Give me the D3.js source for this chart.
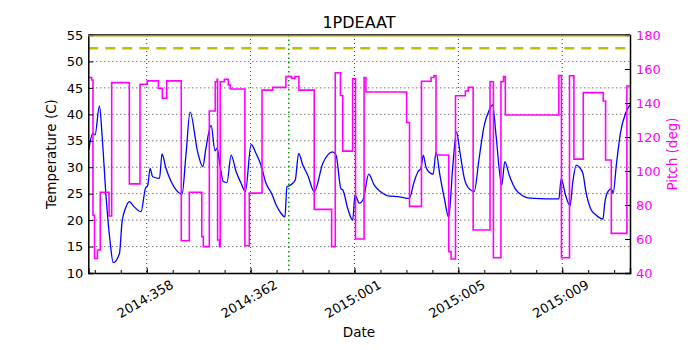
<!DOCTYPE html>
<html><head><meta charset="utf-8">
<script src="https://cdn.jsdelivr.net/npm/d3@7"></script>
<style>body{margin:0;background:#fff} svg{display:block} text{font-family:"DejaVu Sans",sans-serif}</style>
</head><body><svg id="c" width="700" height="350"></svg>
<script>
// Day-of-year values continue past 365 (366 = 2015:001)
const tempDays = [355.77,355.92,356.01,356.18,356.28,356.43,356.59,356.71,356.95,357.05,357.18,357.33,357.52,357.78,357.95,358.04,358.13,358.23,358.49,358.59,358.74,358.94,359.13,359.36,359.51,359.67,359.96,360.16,360.28,360.48,360.63,360.71,360.82,360.95,361.09,361.25,361.44,361.63,361.80,362.02,362.21,362.40,362.59,362.82,362.98,363.17,363.32,363.40,363.53,363.72,363.85,364.01,364.20,364.45,364.78,365.16,365.29,365.48,365.55,365.74,365.93,366.02,366.19,366.34,366.55,366.76,367.02,367.28,367.73,368.11,368.30,368.45,368.56,368.65,368.75,368.95,369.03,369.14,369.29,369.46,369.63,369.78,369.93,370.06,370.23,370.42,370.61,370.80,371.00,371.17,371.32,371.45,371.67,371.79,371.96,372.22,372.48,372.68,372.91,373.87,373.96,374.13,374.30,374.41,374.54,374.64,374.80,374.90,375.09,375.29,375.57,375.63,375.73,375.89,375.96,376.09,376.25,376.44,376.61];
const tempValues = [33.3,36.4,36.1,41.6,36.1,24.7,15.9,11.95,13.7,19.7,22.2,23.5,22.5,21.6,26.0,26.6,29.8,28.2,27.9,32.5,29.8,27.3,25.7,24.9,32.3,40.4,32.9,30.1,33.6,37.9,33.1,33.6,30.4,27.3,27.1,32.3,29.2,27.0,25.4,34.3,32.6,30.4,27.0,24.9,22.9,21.3,20.6,26.3,26.6,27.6,32.6,30.4,28.5,25.4,30.7,32.9,32.3,25.9,25.7,22.2,20.0,24.7,23.2,24.0,28.7,26.6,25.3,24.6,24.4,24.1,27.3,29.2,29.8,32.3,30.1,28.8,28.7,32.9,28.5,24.1,20.5,29.8,36.7,32.9,27.9,25.9,25.4,31.7,38.0,40.6,41.8,36.1,26.6,31.05,28.5,25.7,24.6,24.2,24.1,24.0,27.8,24.7,22.7,27.3,30.4,30.1,28.8,25.7,22.2,21.0,20.2,22.9,25.1,25.9,25.1,30.7,36.7,40.2,41.8];
const pitchDays = [355.75,355.88,355.93,355.99,356.10,356.21,356.55,356.65,357.33,357.74,358.02,358.45,358.60,358.77,359.33,359.64,360.12,360.18,360.41,360.64,360.71,360.73,360.80,360.83,360.99,361.14,361.22,361.78,361.95,362.44,362.85,363.36,363.58,363.71,363.86,364.45,365.12,365.26,365.46,365.55,365.93,366.04,366.37,366.44,368.01,368.12,368.58,368.95,369.06,369.14,369.63,369.72,369.89,370.27,370.38,370.57,371.22,371.35,371.64,371.74,371.81,373.87,373.97,374.28,374.45,374.81,375.58,375.67,375.89,376.49,376.61];
const pitchValues = [155,153.5,74,48.6,53.5,87.5,73.5,152,92.4,151,153,148.6,142.8,153,59,87.5,61.4,55.5,135.3,152.5,154,59.4,55.5,152.5,154,150.6,148.2,56,87,147.6,149.2,155.5,154.5,155.6,147.6,77.4,55.5,157.8,144.4,111.7,154.3,60,155,146.5,128.5,79.2,152.8,155,156,109.4,52.6,48.2,144.3,147.1,149.2,65.3,152.5,49,152.5,155.5,132.9,156.1,49,156,107,146.1,141.2,106.5,63.3,150,150];
const dateTickDays = [358, 362, 366, 370, 374];
const dateTickLabels = ["2014:358","2014:362","2015:001","2015:005","2015:009"];
const tempTicks = [10,15,20,25,30,35,40,45,50,55];
const pitchTicks = [40,60,80,100,120,140,160,180];
const tempLimit = 52.5;
const tempMaxLine = 55;
const nowDay = 363.47;
const dayRange = [355.75, 376.61];

function dayToDate(d){ return new Date(Date.UTC(2014,0,1) + (d-1)*864e5); }

const L = 88.3, R = 630, T = 35, B = 273;
const svg = d3.select("#c");
svg.append("rect").attr("width",700).attr("height",350).attr("fill","#fff");

const x = d3.scaleUtc().domain(dayRange.map(dayToDate)).range([L, R]);
const y = d3.scaleLinear().domain([10, 55]).range([B, T]);
const y2 = d3.scaleLinear().domain([40, 180]).range([B, T]);

svg.append("defs").append("clipPath").attr("id","clip").append("rect")
  .attr("x",L).attr("y",T).attr("width",R-L).attr("height",B-T);

// grid
const grid = svg.append("g").attr("stroke","#000").attr("stroke-width",0.8).attr("stroke-dasharray","1,3");
grid.selectAll(".gh").data(tempTicks.slice(1,-1)).join("line")
  .attr("x1",L).attr("x2",R).attr("y1",d=>y(d)).attr("y2",d=>y(d));
grid.selectAll(".gv").data(dateTickDays).join("line")
  .attr("y1",T).attr("y2",B).attr("x1",d=>x(dayToDate(d))).attr("x2",d=>x(dayToDate(d)));

const plot = svg.append("g").attr("clip-path","url(#clip)");

// limit lines
plot.append("line").attr("x1",L).attr("x2",R).attr("y1",y(tempLimit)).attr("y2",y(tempLimit))
  .attr("stroke","#bfbf00").attr("stroke-width",2.5).attr("stroke-dasharray","10,7");

// now marker
plot.append("line").attr("x1",x(dayToDate(nowDay))).attr("x2",x(dayToDate(nowDay)))
  .attr("y1",T).attr("y2",B).attr("stroke","#00a000").attr("stroke-width",1.5).attr("stroke-dasharray","1.5,3");

// temperature
const tData = tempDays.map((d,i)=>[dayToDate(d), tempValues[i]]);
plot.append("path").datum(tData)
  .attr("d", d3.line().x(d=>x(d[0])).y(d=>y(d[1])).curve(d3.curveMonotoneX))
  .attr("fill","none").attr("stroke","#0000ff").attr("stroke-width",1.3);

// pitch
const pData = pitchDays.map((d,i)=>[dayToDate(d), pitchValues[i]]);
plot.append("path").datum(pData)
  .attr("d", d3.line().x(d=>x(d[0])).y(d=>y2(d[1])).curve(d3.curveStepAfter))
  .attr("fill","none").attr("stroke","#ff00ff").attr("stroke-width",1.6);

// axes
const fmt = d3.utcFormat("%Y:%j");
const axL = svg.append("g").attr("transform",`translate(${L},0)`)
  .call(d3.axisLeft(y).tickValues(tempTicks).tickSize(-5).tickPadding(5).tickFormat(d3.format("d")));
const axR = svg.append("g").attr("transform",`translate(${R},0)`)
  .call(d3.axisRight(y2).tickValues(pitchTicks).tickSize(-5).tickPadding(6).tickFormat(d3.format("d")));
const axB = svg.append("g").attr("transform",`translate(0,${B})`)
  .call(d3.axisBottom(x).tickValues(dateTickDays.map(dayToDate)).tickSize(-5).tickFormat((d,i)=>dateTickLabels[i]));
const minorDays = d3.range(356, 377);
svg.append("g").attr("transform",`translate(0,${B})`)
  .call(d3.axisBottom(x).tickValues(minorDays.map(dayToDate)).tickSize(-3).tickFormat(""))
  .select(".domain").remove();

[axL, axR, axB].forEach(a=>{
  a.select(".domain").attr("stroke","#000").attr("stroke-width",1.5);
  a.selectAll("text").attr("font-size",13).attr("font-family","DejaVu Sans");
});
axL.selectAll("text").attr("fill","#000");
axR.selectAll("text").attr("fill","#ff00ff");
axR.selectAll(".tick line").attr("stroke","#000");
axB.selectAll("text").attr("y",null).attr("dy",null)
  .attr("text-anchor","middle").attr("dominant-baseline","central")
  .attr("transform","translate(-2,26) rotate(-30)").attr("fill","#000");

// top limit line (at 55) over the top spine
svg.append("line").attr("x1",L).attr("x2",R).attr("y1",y(tempMaxLine)).attr("y2",y(tempMaxLine))
  .attr("stroke","#000").attr("stroke-width",1.5);
svg.append("line").attr("x1",L).attr("x2",R).attr("y1",y(tempMaxLine)+0.8).attr("y2",y(tempMaxLine)+0.8)
  .attr("stroke","#a8a800").attr("stroke-width",1.2);

// titles
svg.append("text").attr("x",359).attr("y",28).attr("text-anchor","middle").attr("font-size",16).text("1PDEAAT");
svg.append("text").attr("x",359).attr("y",337).attr("text-anchor","middle").attr("font-size",13.5).text("Date");
svg.append("text").attr("transform","translate(56,154) rotate(-90)").attr("text-anchor","middle").attr("font-size",13.5).text("Temperature (C)");
svg.append("text").attr("transform","translate(677,154) rotate(-90)").attr("text-anchor","middle").attr("font-size",13.5).attr("fill","#ff00ff").text("Pitch (deg)");
</script></body></html>
